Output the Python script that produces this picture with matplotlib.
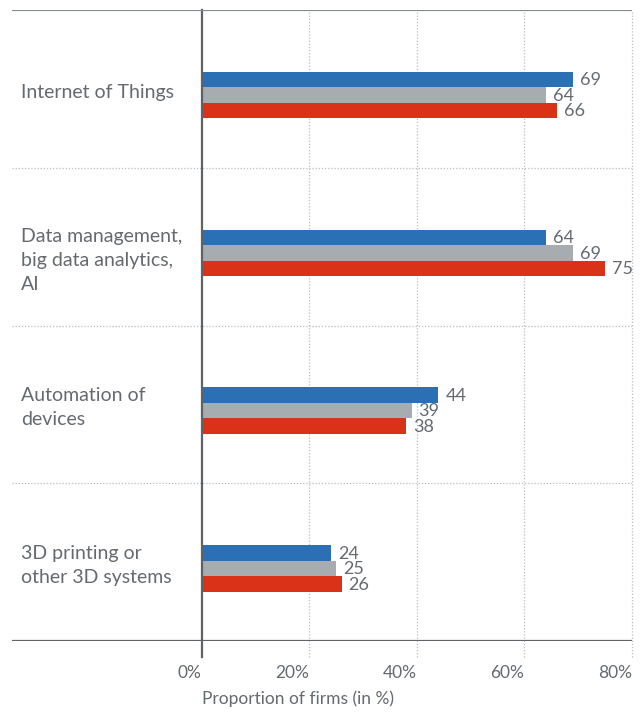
import matplotlib.pyplot as plt

plt.rcParams['font.family'] = ['Lato', 'DejaVu Sans']

categories = ['Internet of Things',
              'Data management,\nbig data analytics,\nAI',
              'Automation of\ndevices',
              '3D printing or\nother 3D systems']
blue_vals = [69, 64, 44, 24]
gray_vals = [64, 69, 39, 25]
red_vals = [66, 75, 38, 26]
xticks = [0, 20, 40, 60, 80]
xtick_labels = ['0%', '20%', '40%', '60%', '80%']

colors = ['#2b6fb4', '#a7acb1', '#d93218']
text_col = '#656a70'
line_col = '#5d6369'
grid_col = '#b9bdc1'

fig = plt.figure(figsize=(6.41, 7.13), dpi=100)
ax = fig.add_axes([12 / 641, 1 - 641 / 713, 620 / 641, 631 / 713])

bar_h = 0.098
center_off = 0.54
n = len(categories)
for k, vals in enumerate([blue_vals, gray_vals, red_vals]):
    ys = [i + center_off + (k - 1) * bar_h for i in range(n)]
    ax.barh(ys, vals, height=bar_h, color=colors[k], zorder=3)
    for y, v in zip(ys, vals):
        ax.annotate(str(v), (v, y), xytext=(5, -0.5), textcoords='offset points',
                    va='center', ha='left', fontsize=13, color=text_col, zorder=4)

# category labels on the left
label_shift = [0.02, 0.09, 0.02, 0.02]
for i, lab in enumerate(categories):
    ax.text(-33.6, i + 0.5 + label_shift[i], lab, ha='left', va='center',
            fontsize=14, color=text_col, linespacing=1.5)

ax.set_xlim(-35.3, 80)
ax.set_ylim(n, 0)

# separators and gridlines
for y in range(1, n):
    ax.axhline(y, color=grid_col, lw=0.9, ls=(0, (1, 1.5)), zorder=1)
for x in xticks[1:]:
    ax.axvline(x, ymin=-0.025, ymax=1, color=grid_col, lw=0.9, ls=(0, (1, 1.5)),
               zorder=1, clip_on=False)
ax.axvline(0, ymin=-0.025, ymax=1, color=line_col, lw=1.6, zorder=5, clip_on=False)
ax.axhline(0, color='#868b90', lw=1.6, zorder=5)
ax.axhline(n, color=line_col, lw=1.6, zorder=5)

for s in ax.spines.values():
    s.set_visible(False)
ax.set_yticks([])
ax.set_xticks(xticks)
ax.set_xticklabels(xtick_labels)
ax.tick_params(axis='x', length=0, pad=17, labelsize=12.5, labelcolor=text_col)
for t in ax.get_xticklabels():
    t.set_ha('right')

ax.text(0, -0.091, 'Proportion of firms (in %)', transform=ax.get_xaxis_transform(),
        ha='left', va='center', fontsize=12.5, color=text_col)

fig.savefig('out.png', dpi=100)
